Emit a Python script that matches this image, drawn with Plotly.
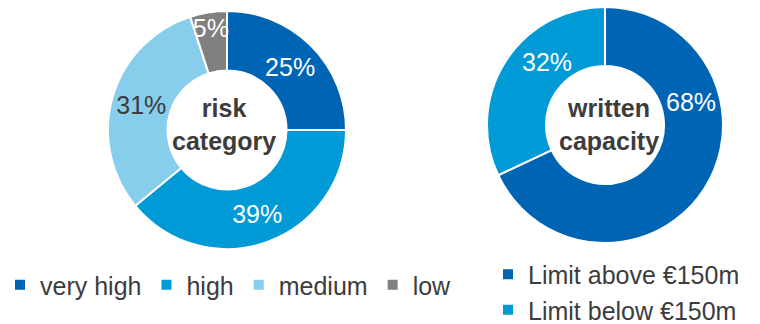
import plotly.graph_objects as go

# Risk category split
risk_labels = ["very high", "high", "medium", "low"]
risk_values = [25, 39, 31, 5]
risk_colors = ["#0064B4", "#009AD6", "#87CDEC", "#808080"]
risk_text_colors = ["white", "white", "#3C3C3C", "white"]

# Written capacity split
cap_labels = ["Limit above €150m", "Limit below €150m"]
cap_values = [68, 32]
cap_colors = ["#0064B4", "#009AD6"]
# pixel centres of the capacity percentage labels
cap_label_px = [(691, 102), (547, 62)]

# centre captions of the two rings (text, pixel centre)
captions = [("<b>risk<br>category</b>", (224, 125)),
            ("<b>written<br>capacity</b>", (609, 125))]

FONT = "Arial, Liberation Sans, sans-serif"
TXT = "#3C3C3C"
W, H = 760, 324


def dom(cx, cy, r):
    return dict(x=[(cx - r) / W, (cx + r) / W],
                y=[1 - (cy + r) / H, 1 - (cy - r) / H])


fig = go.Figure()

fig.add_trace(go.Pie(
    labels=risk_labels, values=risk_values,
    marker=dict(colors=risk_colors, line=dict(color="white", width=2)),
    hole=0.5, sort=False, direction="clockwise", rotation=0,
    texttemplate="%{percent:.0%}", textposition="inside",
    insidetextorientation="horizontal",
    insidetextfont=dict(family=FONT, size=25, color=risk_text_colors),
    domain=dom(227, 130, 119),
    legend="legend",
))

fig.add_trace(go.Pie(
    labels=cap_labels, values=cap_values,
    marker=dict(colors=cap_colors, line=dict(color="white", width=2)),
    hole=0.5, sort=False, direction="clockwise", rotation=0,
    textinfo="none",
    domain=dom(605, 125, 118),
    legend="legend2",
))

for v, (px, py) in zip(cap_values, cap_label_px):
    fig.add_annotation(
        x=px / W, y=1 - py / H, xref="paper", yref="paper",
        xanchor="center", yanchor="middle",
        text=f"{v}%", showarrow=False,
        font=dict(family=FONT, size=25, color="white"),
    )

for text, (px, py) in captions:
    fig.add_annotation(
        x=px / W, y=1 - py / H, xref="paper", yref="paper",
        xanchor="center", yanchor="middle",
        text=text, showarrow=False,
        font=dict(family=FONT, size=25, color=TXT),
    )

fig.update_layout(
    width=W, height=H,
    margin=dict(l=0, r=0, t=0, b=0, autoexpand=False),
    paper_bgcolor="white", plot_bgcolor="white",
    font=dict(family=FONT, color=TXT),
    uniformtext=dict(minsize=25, mode="show"),
    legend=dict(orientation="h", x=0, xanchor="left", y=1 - 285 / H,
                yanchor="middle", font=dict(family=FONT, size=25, color=TXT),
                bgcolor="rgba(0,0,0,0)"),
    legend2=dict(orientation="v", x=488 / W, xanchor="left", y=1 - 292 / H,
                 yanchor="middle", font=dict(family=FONT, size=25, color=TXT),
                 bgcolor="rgba(0,0,0,0)", tracegroupgap=0),
)

fig.write_html("out.html")
